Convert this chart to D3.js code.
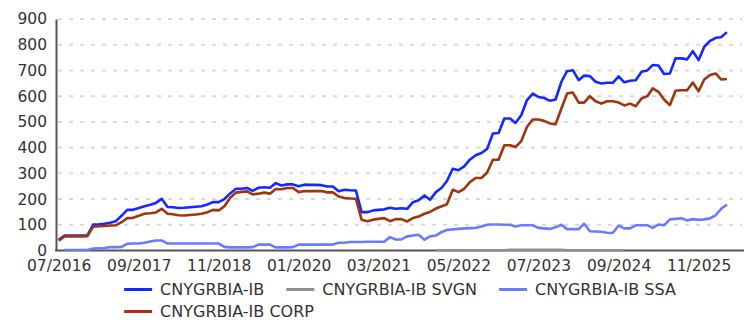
<!DOCTYPE html>
<html>
<head>
<meta charset="utf-8">
<script src="https://cdn.jsdelivr.net/npm/d3@7"></script>
<style>
  html, body { margin: 0; padding: 0; background: #ffffff; }
  svg { display: block; font-family: "DejaVu Sans", sans-serif; }
</style>
</head>
<body>
<svg id="chart" width="754" height="323"></svg>
<script>
// Monthly series, first observation July 2016
const startMonth = new Date(2016, 6, 1);
const endMonth = new Date(2026, 6, 1);

const seriesNames = ["CNYGRBIA-IB", "CNYGRBIA-IB SVGN", "CNYGRBIA-IB SSA", "CNYGRBIA-IB CORP"];
const seriesColors = ["#1428ff", "#8f8f8f", "#6a7bff", "#a0340c"];

const ib = [42,58,58,58,58,59,101,102,104,108,
  114,135,158,158,165,172,178,185,201,169,
  168,165,166,168,170,172,179,188,188,200,
  222,240,240,243,232,244,246,244,262,253,
  257,257,250,256,255,255,254,249,249,230,
  236,234,233,149,149,156,158,160,166,162,
  164,162,188,195,214,197,227,244,270,318,
  312,327,353,370,379,395,455,457,513,513,
  496,526,584,610,597,593,582,587,656,697,
  701,662,680,678,656,649,652,652,677,654,
  660,662,695,700,721,719,686,688,747,747,
  743,775,740,792,815,827,829,849];

const svgn = [null,null,null,null,null,null,null,null,null,null,
  null,null,null,null,null,null,null,null,null,null,
  null,null,null,null,null,null,null,null,null,null,
  null,null,null,null,null,null,null,null,null,null,
  null,null,null,null,null,null,null,null,null,null,
  null,null,null,null,null,null,null,null,null,null,
  null,null,null,null,null,null,1,1,1,1,
  1,1,1,1,1,1,1,1,1,3,
  3,3,3,3,3,3,3,3,3,1,
  1,1,1,1,1,1,1,1,1,1,
  null,null,null,null,null,null,null,null,null,null,
  null,null,null,null,null,null,null,null];

const ssa = [null,2,2,2,2,2,8,9,10,13,
  13,14,26,27,27,30,35,39,39,27,
  27,27,27,27,27,27,27,27,27,14,
  12,12,12,12,13,23,23,23,12,12,
  12,13,23,23,23,23,23,23,23,30,
  30,33,33,33,34,34,34,34,52,43,
  43,55,58,61,42,55,58,72,80,82,
  84,86,87,88,93,100,101,101,100,100,
  93,98,98,98,88,86,84,90,100,83,
  83,83,104,75,74,73,69,68,97,86,
  86,98,98,98,88,101,98,121,123,125,
  117,122,119,121,125,138,162,179];

const corp = [38,55,55,55,55,56,93,94,95,97,
  98,110,126,127,135,143,145,148,162,143,
  141,137,136,138,140,143,149,158,156,172,
  205,225,228,230,218,221,225,221,239,238,
  243,243,227,231,231,231,231,226,226,210,
  204,202,201,120,114,120,123,126,114,122,
  122,113,126,132,143,150,163,172,180,236,
  227,240,266,282,282,303,353,353,409,409,
  402,425,480,509,509,504,494,491,552,610,
  614,575,575,600,580,571,580,580,575,564,
  571,561,591,600,630,617,587,565,621,623,
  623,653,619,665,682,688,665,667];

const yTicks = [0, 100, 200, 300, 400, 500, 600, 700, 800, 900];
const xTickLabels = ["07/2016", "09/2017", "11/2018", "01/2020", "03/2021",
                     "05/2022", "07/2023", "09/2024", "11/2025"];

const months = ib.map((_, i) => d3.timeMonth.offset(startMonth, i));
const parseTick = d3.timeParse("%m/%Y");
const fmtTick = d3.timeFormat("%m/%Y");

const svg = d3.select("#chart");

const x = d3.scaleTime().domain([startMonth, endMonth]).range([58.7, 744]);
const y = d3.scaleLinear().domain([0, 900]).range([250.5, 19]);

// dashed horizontal grid
svg.append("g")
  .selectAll("line")
  .data(yTicks.filter(t => t > 0))
  .join("line")
  .attr("x1", 58).attr("x2", 742)
  .attr("y1", d => y(d)).attr("y2", d => y(d))
  .attr("stroke", "#d9d9d9")
  .attr("stroke-width", 2)
  .attr("stroke-dasharray", "4,7");

// y axis
const yAxis = svg.append("g")
  .attr("transform", "translate(56,0)")
  .call(d3.axisLeft(y).tickValues(yTicks).tickSize(0).tickPadding(9).tickSizeOuter(0));
yAxis.select(".domain").attr("stroke", "#555").attr("stroke-width", 2);
yAxis.selectAll("text").attr("font-size", "15.5px").attr("fill", "#333")
  .attr("font-family", "DejaVu Sans");

// x axis
const xAxis = svg.append("g")
  .attr("transform", `translate(0,${y(0)})`)
  .call(d3.axisBottom(x).tickValues(xTickLabels.map(parseTick))
    .tickFormat(fmtTick).tickSize(0).tickPadding(9).tickSizeOuter(0));
xAxis.select(".domain").remove();
xAxis.selectAll("text").attr("font-size", "15.5px").attr("fill", "#333")
  .attr("font-family", "DejaVu Sans");
svg.append("line")
  .attr("x1", 55).attr("x2", 744)
  .attr("y1", y(0)).attr("y2", y(0))
  .attr("stroke", "#555").attr("stroke-width", 2);

// series lines
const allSeries = [ib, svgn, ssa, corp];
const line = d3.line()
  .defined(d => d.v != null)
  .x(d => x(d.t))
  .y(d => y(d.v));

svg.append("g")
  .selectAll("path")
  .data(allSeries.map((vals, k) => ({ k, pts: vals.map((v, i) => ({ t: months[i], v })) })))
  .join("path")
  .attr("fill", "none")
  .attr("stroke", d => seriesColors[d.k])
  .attr("stroke-width", 2.6)
  .attr("stroke-linejoin", "round")
  .attr("d", d => line(d.pts));

// legend
const legend = svg.append("g");
const items = seriesNames.map((name, k) => {
  const g = legend.append("g");
  g.append("line").attr("x1", 0).attr("x2", 28).attr("y1", 0).attr("y2", 0)
    .attr("stroke", seriesColors[k]).attr("stroke-width", 3);
  const t = g.append("text").attr("x", 36).attr("dy", "0.35em")
    .attr("font-size", "16px").attr("fill", "#333").text(name);
  return { g, w: 36 + t.node().getComputedTextLength() };
});
const rows = [[0, 1, 2], [3]];
const rowY = [289.5, 311.5];
const gap = 22;
const row0Width = rows[0].reduce((s, k) => s + items[k].w, 0) + gap * (rows[0].length - 1);
const left = 400 - row0Width / 2;
rows.forEach((row, r) => {
  let cx = left;
  row.forEach(k => {
    items[k].g.attr("transform", `translate(${cx},${rowY[r]})`);
    cx += items[k].w + gap;
  });
});
</script>
</body>
</html>
